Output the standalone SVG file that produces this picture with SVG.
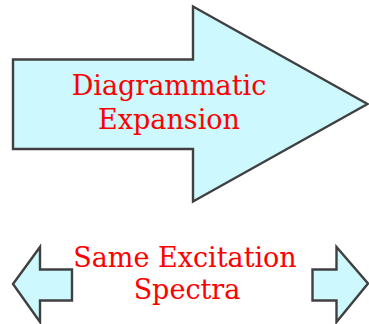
<svg xmlns="http://www.w3.org/2000/svg" width="369" height="324" viewBox="0 0 369 324">
<style>
.arrow{fill:#ccf8fe;stroke:#404040;stroke-width:2.4;stroke-linejoin:miter}
.lbl{fill:#ff0000;font-family:"DejaVu Serif",serif;font-size:27px;text-anchor:middle}
</style>
<rect width="369" height="324" fill="#ffffff"/>
<g id="expansion">
<polygon class="arrow" points="13,59.5 193,59.5 193,6.5 367.5,104 193,201.5 193,149 13,149"/>
<text class="lbl" x="169" y="94.5">Diagrammatic</text>
<text class="lbl" x="169" y="128.5">Expansion</text>
</g>
<g id="spectra">
<polygon class="arrow" points="72,269.5 40,269.5 40,247 13,284 40,322 40,300.5 72,300.5"/>
<polygon class="arrow" points="312.5,269.5 336.5,269.5 336.5,247 368,283.5 336.5,322 336.5,300.5 312.5,300.5"/>
<text class="lbl" x="185" y="267" font-size="26">Same Excitation</text>
<text class="lbl" x="187" y="298.5" font-size="26">Spectra</text>
</g>
</svg>
